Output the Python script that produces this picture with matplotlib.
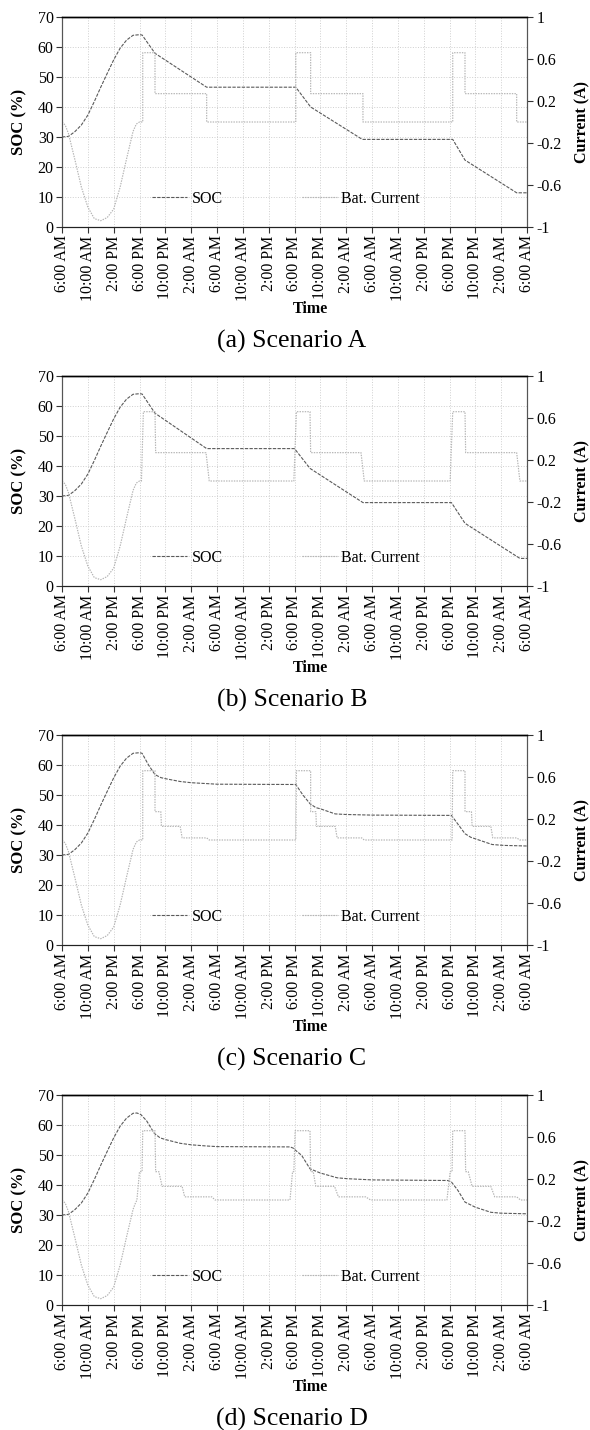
import matplotlib
matplotlib.use("Agg")
import matplotlib.pyplot as plt

plt.rcParams['font.family'] = ['Liberation Serif', 'DejaVu Serif']

# ---------------- data ----------------
tick_hours = list(range(0, 73, 4))
tick_labels = ["6:00 AM", "10:00 AM", "2:00 PM", "6:00 PM", "10:00 PM", "2:00 AM"] * 3 + ["6:00 AM"]
soc_ticks = [0, 10, 20, 30, 40, 50, 60, 70]
cur_ticks = [-1, -0.6, -0.2, 0.2, 0.6, 1]
cur_tick_labels = ["-1", "-0.6", "-0.2", "0.2", "0.6", "1"]

# day 1 morning (same in all scenarios)
morning_soc_h = [0, 1, 2, 3, 4, 5, 6, 7, 8, 9, 10, 11]
morning_soc = [30.0, 30.2, 31.8, 34.0, 37.3, 41.8, 46.6, 51.2, 55.7, 59.6, 62.3, 63.9]
morning_cur_h = [0, 0.5, 1, 2, 3, 4, 5, 6, 7, 8, 9, 10, 11]
morning_cur = [0.0, -0.03, -0.11, -0.36, -0.62, -0.81, -0.92, -0.94, -0.91, -0.83, -0.62, -0.35, -0.09]

# scenario A
a_soc_h = [12, 12.4, 14.4, 22.4, 36.2, 38.5, 46.5, 60.5, 62.4, 70.4, 72]
a_soc = [64.1, 64.0, 57.9, 46.6, 46.6, 40.0, 29.2, 29.2, 22.3, 11.4, 11.4]
a_cur_h = [11.5, 12, 12.5, 12.5, 14.4, 14.4, 22.4, 22.4, 36.2, 36.2, 38.5, 38.5,
           46.6, 46.6, 60.5, 60.5, 62.4, 62.4, 70.4, 70.4, 72]
a_cur = [-0.02, 0.0, 0.0, 0.66, 0.66, 0.27, 0.27, 0.0, 0.0, 0.66, 0.66, 0.27,
         0.27, 0.0, 0.0, 0.66, 0.66, 0.27, 0.27, 0.0, 0.0]

# scenario B
b_soc_h = [12, 12.4, 14.4, 22.4, 36.0, 38.4, 46.6, 60.3, 62.4, 70.9, 72]
b_soc = [64.1, 64.0, 57.6, 45.8, 45.8, 39.2, 27.8, 27.8, 20.9, 9.2, 9.2]
b_cur_h = [11.5, 12, 12.3, 12.6, 14.4, 14.5, 22.3, 22.8, 35.9, 36.3, 38.4, 38.5,
           46.3, 46.8, 60.1, 60.5, 62.4, 62.5, 70.4, 70.9, 72]
b_cur = [-0.02, 0.0, 0.0, 0.66, 0.66, 0.27, 0.27, 0.0, 0.0, 0.66, 0.66, 0.27,
         0.27, 0.0, 0.0, 0.66, 0.66, 0.27, 0.27, 0.0, 0.0]

# scenario C
c_soc_h = [12, 12.4, 13.4, 14.4, 15.3, 16.1, 18.3, 20, 22.4, 24, 36.2, 37.3, 38.4,
           39.3, 40, 42.3, 44, 48, 60.3, 61.3, 62.4, 63.3, 64, 66.6, 68.4, 72]
c_soc = [64.1, 63.9, 60.0, 56.8, 55.8, 55.4, 54.5, 54.1, 53.8, 53.6, 53.5, 50.0, 47.1,
         45.8, 45.4, 43.7, 43.5, 43.3, 43.2, 40.3, 37.1, 35.9, 35.4, 33.5, 33.2, 33.0]
c_cur_h = [11.5, 12, 12.5, 12.5, 14.4, 14.4, 15.3, 15.4, 18.3, 18.6, 22.4, 22.8,
           36.2, 36.3, 38.5, 38.5, 39.3, 39.4, 42.3, 42.6, 46.4, 46.8,
           60.4, 60.5, 62.4, 62.4, 63.4, 63.5, 66.4, 66.7, 70.4, 70.9, 72]
c_cur = [-0.02, 0.0, 0.0, 0.66, 0.66, 0.27, 0.27, 0.13, 0.13, 0.02, 0.02, 0.0,
         0.0, 0.66, 0.66, 0.27, 0.27, 0.13, 0.13, 0.02, 0.02, 0.0,
         0.0, 0.66, 0.66, 0.27, 0.27, 0.13, 0.13, 0.02, 0.02, 0.0, 0.0]

# scenario D
d_soc_h = [11.6, 12.2, 13.1, 14.3, 15.2, 16.1, 18.3, 20, 22.4, 24, 35.3, 35.8, 36.2,
           37.1, 38.4, 40, 42.6, 44.2, 48, 59.7, 60.3, 61.3, 62.4, 64, 66.4, 68, 72]
d_soc = [64.0, 63.5, 61.4, 57.2, 55.7, 55.1, 53.9, 53.4, 53.0, 52.8, 52.7, 52.3, 51.5,
         49.9, 45.4, 44.0, 42.4, 42.1, 41.7, 41.5, 41.0, 38.2, 34.3, 32.6, 30.9, 30.6, 30.4]
d_cur_h = [11.3, 11.6, 12.0, 12.4, 12.5, 14.4, 14.5, 15.0, 15.5, 18.6, 19.0, 23.2, 23.7,
           35.3, 35.7, 35.9, 36.1, 38.4, 38.5, 38.9, 39.3, 42.2, 42.8, 47.0, 47.8,
           59.6, 60.1, 60.4, 60.5, 62.4, 62.5, 62.9, 63.5, 66.4, 67.0, 70.4, 71.0, 72]
d_cur = [-0.04, 0.0, 0.27, 0.27, 0.66, 0.66, 0.27, 0.27, 0.13, 0.13, 0.03, 0.03, 0.0,
         0.0, 0.27, 0.27, 0.66, 0.66, 0.27, 0.27, 0.13, 0.13, 0.03, 0.03, 0.0,
         0.0, 0.27, 0.27, 0.66, 0.66, 0.27, 0.27, 0.13, 0.13, 0.03, 0.03, 0.0, 0.0]

scenarios = [
    ("(a) Scenario A", a_soc_h, a_soc, a_cur_h, a_cur),
    ("(b) Scenario B", b_soc_h, b_soc, b_cur_h, b_cur),
    ("(c) Scenario C", c_soc_h, c_soc, c_cur_h, c_cur),
    ("(d) Scenario D", d_soc_h, d_soc, d_cur_h, d_cur),
]

# ---------------- layout (pixels) ----------------
FIG_W, FIG_H = 590, 1430
AX_LEFT, AX_W, AX_H = 62, 465, 210
panel_tops = [17, 376, 735, 1095]

fig = plt.figure(figsize=(FIG_W / 100, FIG_H / 100), dpi=100)

for (caption, soc_h, soc, cur_h, cur), top in zip(scenarios, panel_tops):
    ax = fig.add_axes([AX_LEFT / FIG_W, 1 - (top + AX_H) / FIG_H, AX_W / FIG_W, AX_H / FIG_H])
    ax2 = ax.twinx()

    l_soc, = ax.plot(morning_soc_h + soc_h, morning_soc + soc, color='#5a5a5a', lw=0.8,
                     ls=(0, (3, 1.2)), label='SOC')
    l_cur, = ax2.plot(morning_cur_h + cur_h, morning_cur + cur, color='#b4b4b4', lw=0.85,
                      ls=(0, (1.2, 1)), label='Bat. Current')

    ax.set_xlim(0, 72)
    ax.set_ylim(0, 70)
    ax2.set_ylim(-1, 1)
    ax.set_xticks(tick_hours)
    ax.set_xticklabels(tick_labels, rotation=90, fontsize=11.5)
    ax.set_yticks(soc_ticks)
    ax.tick_params(axis='y', labelsize=11.5, length=4, width=0.8, color='#333333', pad=2)
    ax.tick_params(axis='x', length=4, width=0.8, color='#333333', pad=2)
    ax2.set_yticks(cur_ticks)
    ax2.set_yticklabels(cur_tick_labels, fontsize=11.5)
    ax2.tick_params(axis='y', length=4, width=0.8, color='#333333', pad=3)

    ax.grid(True, color='#cfcfcf', ls=':', lw=0.7)
    ax.set_axisbelow(True)

    for a in (ax, ax2):
        a.spines['top'].set_color('black')
        a.spines['top'].set_linewidth(1.0)
        a.spines['bottom'].set_color('#222222')
        a.spines['left'].set_color('#555555')
        a.spines['right'].set_color('#555555')

    ax2.legend(handles=[l_soc, l_cur], loc='center', bbox_to_anchor=(0.482, 0.133),
               ncol=2, frameon=False, fontsize=11.5, handlelength=2.2,
               handletextpad=0.3, columnspacing=4.9)

    fig.text(19 / FIG_W, 1 - (top + 105) / FIG_H, 'SOC (%)', rotation=90, ha='center',
             va='center', fontsize=12, fontweight='bold')
    fig.text(582 / FIG_W, 1 - (top + 105) / FIG_H, 'Current (A)', rotation=90, ha='center',
             va='center', fontsize=11.5, fontweight='bold')
    fig.text(310 / FIG_W, 1 - (top + 292) / FIG_H, 'Time', ha='center', va='center',
             fontsize=11.5, fontweight='bold')
    fig.text(292 / FIG_W, 1 - (top + 324) / FIG_H, caption, ha='center', va='center',
             fontsize=18.5)

fig.savefig('out.png', dpi=100)
